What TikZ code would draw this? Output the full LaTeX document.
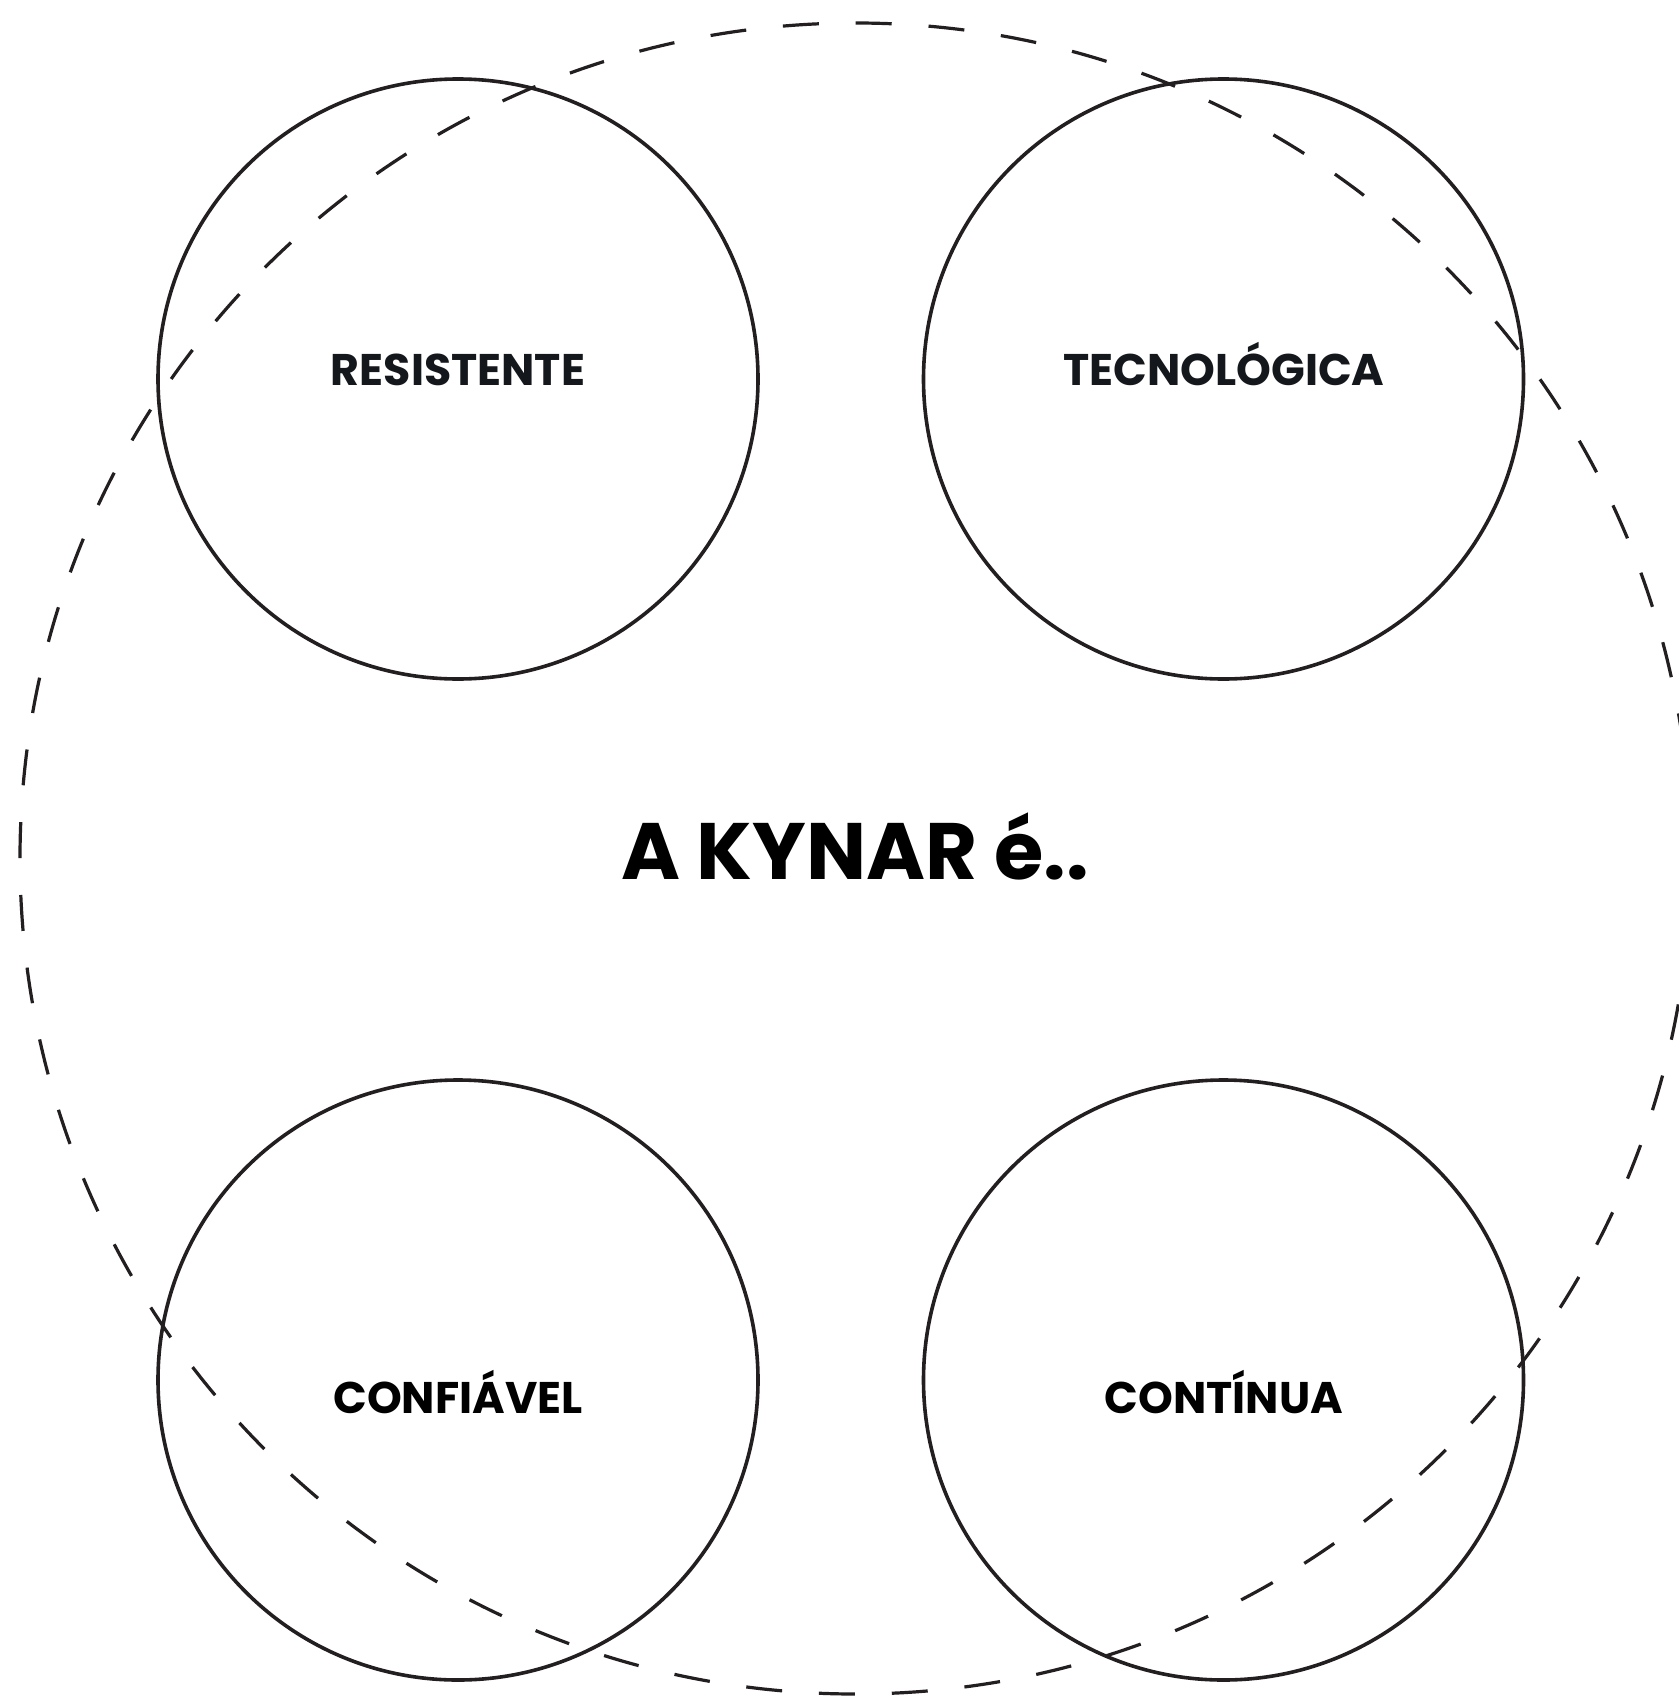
\documentclass[tikz,border=0pt]{standalone}
\usepackage{fontspec}
\setmainfont{Poppins}
\definecolor{ink}{HTML}{231F20}
\definecolor{navy}{HTML}{14171B}
\begin{document}
\begin{tikzpicture}[x=1pt,y=-1pt,
  bubble/.style={draw=ink,line width=3.6pt,circle,minimum size=600pt,inner sep=0pt},
  outer/.style={draw=ink,line width=3.2pt,dash pattern=on 36pt off 36.91pt,dash phase=36pt},
  lbl/.style={anchor=base,inner sep=0pt,font=\fontsize{44.3}{50}\selectfont\bfseries},
  title/.style={anchor=base,inner sep=0pt,font=\fontsize{80}{90}\selectfont\bfseries}]
\useasboundingbox[fill=white] (0,0) rectangle (1678,1696);
\draw[outer] (855.5,858.5) circle[radius=835.5pt];
\node[bubble] (tl) at (458,379) {};
\node[bubble] (tr) at (1223.5,379) {};
\node[bubble] (bl) at (458,1380) {};
\node[bubble] (br) at (1223.5,1380) {};
\node[lbl,text=navy] (ltl) at (458,385) {RESISTENTE};
\node[lbl,text=navy] (ltr) at (1224,385) {TECNOLÓGICA};
\node[lbl,text=black] (lbl) at (458,1413) {CONFIÁVEL};
\node[lbl,text=black] (lbr) at (1224,1413) {CONTÍNUA};
\node[title,text=black] (main) at (855,879) {A KYNAR é..};
\end{tikzpicture}
\end{document}
